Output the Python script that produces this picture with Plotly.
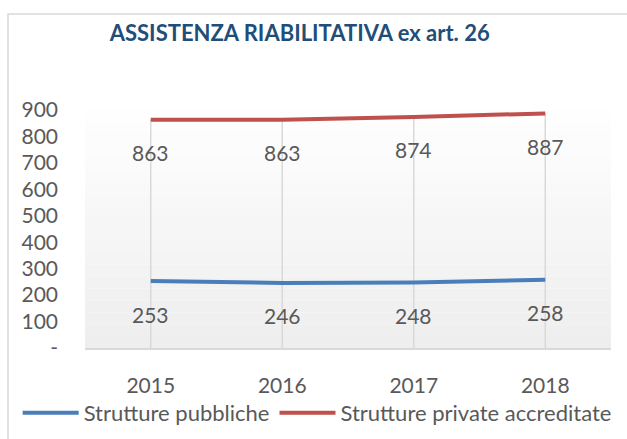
import plotly.graph_objects as go

years = ["2015", "2016", "2017", "2018"]
pubbliche = [253, 246, 248, 258]
private = [863, 863, 874, 887]
series_names = ["Strutture pubbliche", "Strutture private accreditate"]
y_tickvals = [0, 100, 200, 300, 400, 500, 600, 700, 800, 900]
y_ticktext = ["-", "100", "200", "300", "400", "500", "600", "700", "800", "900"]

BLUE = "#4A7EBB"
RED = "#C0504D"
GRAY = "#595959"
FONT = "Lato"

xpos = list(range(len(years)))

fig = go.Figure()
fig.add_trace(go.Scatter(x=xpos, y=pubbliche, mode="lines", name=series_names[0],
                         line=dict(color=BLUE, width=4)))
fig.add_trace(go.Scatter(x=xpos, y=private, mode="lines", name=series_names[1],
                         line=dict(color=RED, width=4)))

annotations = []
for vals in (pubbliche, private):
    for x, v in zip(xpos, vals):
        annotations.append(dict(x=x, y=v, xref="x", yref="y", text=str(v),
                                showarrow=False, yshift=-33,
                                font=dict(family=FONT, size=21, color=GRAY)))

shapes = []
n = 20
for i in range(n):
    g = int(255 - (255 - 238) * (i + 0.5) / n)
    shapes.append(dict(type="rect", xref="paper", yref="paper", x0=0, x1=1,
                       y0=1 - (i + 1) / n, y1=1 - i / n, line=dict(width=0),
                       fillcolor=f"rgb({g},{g},{g})", layer="below"))
for x, v in zip(xpos, private):
    shapes.append(dict(type="line", xref="x", yref="y", x0=x, x1=x, y0=0, y1=v,
                       line=dict(color="#D9D9D9", width=1.5), layer="below"))
shapes.append(dict(type="rect", xref="paper", yref="paper", x0=-0.1464, x1=1.1,
                   y0=-0.6, y1=1.403, line=dict(color="#D9D9D9", width=1.5)))

fig.update_layout(
    width=627, height=439,
    margin=dict(l=85, r=16, t=110, b=91, autoexpand=False),
    paper_bgcolor="white", plot_bgcolor="rgba(0,0,0,0)",
    font=dict(family=FONT, size=21, color=GRAY),
    title=dict(text="<b>ASSISTENZA RIABILITATIVA ex art. 26</b>", x=0.478, y=0.925,
               xanchor="center", yanchor="middle",
               font=dict(family=FONT, size=22, color="#1F4E79")),
    showlegend=True,
    legend=dict(orientation="h", x=-0.128, y=-0.273, xanchor="left", yanchor="middle",
                font=dict(family=FONT, size=22, color=GRAY), itemwidth=56,
                bgcolor="rgba(0,0,0,0)", tracegroupgap=0),
    annotations=annotations,
    shapes=shapes,
)
fig.update_xaxes(tickvals=xpos, ticktext=years, showgrid=False, showline=True,
                 linecolor="#D9D9D9", linewidth=1.5, ticks="", ticklabelstandoff=18,
                 zeroline=False, range=[-0.5, 3.5])
fig.update_yaxes(range=[0, 900], tickvals=y_tickvals, ticktext=y_ticktext,
                 showgrid=False, zeroline=False, showline=False, ticks="",
                 ticklabelstandoff=26)

fig.write_html("out.html", config={"displayModeBar": False},
               post_script="document.body.style.margin='0';")
